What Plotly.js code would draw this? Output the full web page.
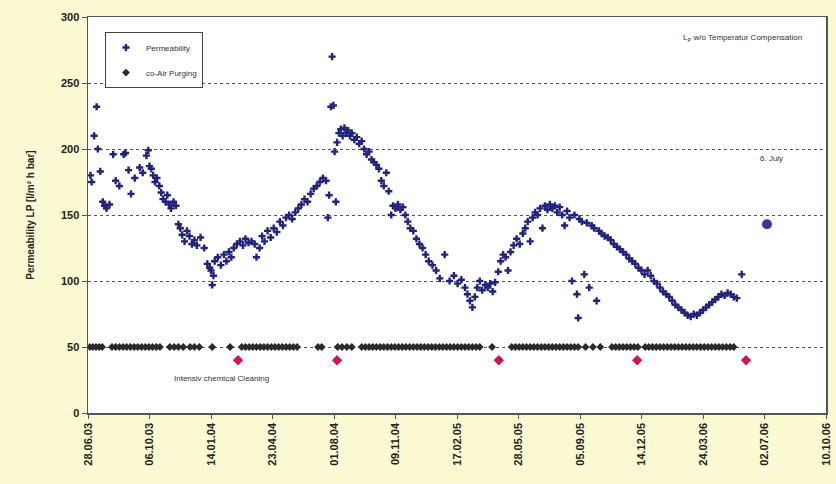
<!DOCTYPE html>
<html>
<head>
<meta charset="utf-8">
<script src="https://cdn.plot.ly/plotly-3.0.1.min.js"></script>
<style>
  html, body { margin: 0; padding: 0; background: #fbf9d2; }
  #chart { width: 836px; height: 484px; }
</style>
</head>
<body>
<div id="chart"></div>
<script>
// Axis ticks: every 100 days from 28.06.03
const tickDates = ['2003-06-28','2003-10-06','2004-01-14','2004-04-23','2004-08-01','2004-11-09',
  '2005-02-17','2005-05-28','2005-09-05','2005-12-14','2006-03-24','2006-07-02','2006-10-10'];
const tickLabels = ['28.06.03','06.10.03','14.01.04','23.04.04','01.08.04','09.11.04',
  '17.02.05','28.05.05','05.09.05','14.12.05','24.03.06','02.07.06','10.10.06'];

// Permeability LP [l/m² h bar]
const permDates = [
  '2003-07-02','2003-07-04','2003-07-08','2003-07-12','2003-07-14','2003-07-18','2003-07-22','2003-07-25',
  '2003-07-28','2003-08-02','2003-08-08','2003-08-12','2003-08-18','2003-08-25','2003-08-28','2003-09-02',
  '2003-09-06','2003-09-12','2003-09-20','2003-09-25','2003-10-01','2003-10-04','2003-10-06','2003-10-09',
  '2003-10-12','2003-10-15','2003-10-18','2003-10-22','2003-10-25','2003-10-28','2003-11-01','2003-11-04',
  '2003-11-07','2003-11-10','2003-11-14','2003-11-18','2003-11-22','2003-11-25','2003-11-28','2003-12-02',
  '2003-12-06','2003-12-10','2003-12-14','2003-12-18','2003-12-22','2003-12-28','2004-01-03','2004-01-08',
  '2004-01-12','2004-01-14','2004-01-16','2004-01-18','2004-01-20','2004-01-25','2004-01-30','2004-02-04',
  '2004-02-08','2004-02-12','2004-02-16','2004-02-20','2004-02-25','2004-03-01','2004-03-06','2004-03-10',
  '2004-03-15','2004-03-20','2004-03-25','2004-03-28','2004-04-02','2004-04-06','2004-04-10','2004-04-15',
  '2004-04-20','2004-04-25','2004-04-30','2004-05-05','2004-05-10','2004-05-15','2004-05-20','2004-05-25',
  '2004-05-30','2004-06-04','2004-06-09','2004-06-14','2004-06-19','2004-06-24','2004-06-29','2004-07-04',
  '2004-07-09','2004-07-14','2004-07-19','2004-07-22','2004-07-24','2004-07-27','2004-07-29','2004-07-31',
  '2004-08-02','2004-08-04','2004-08-06','2004-08-09','2004-08-12','2004-08-15','2004-08-18','2004-08-21',
  '2004-08-24','2004-08-27','2004-08-30','2004-09-03','2004-09-07','2004-09-11','2004-09-15','2004-09-19',
  '2004-09-23','2004-09-27','2004-10-01','2004-10-05','2004-10-09','2004-10-13','2004-10-17','2004-10-21',
  '2004-10-25','2004-10-29','2004-11-02','2004-11-05','2004-11-09','2004-11-13','2004-11-17','2004-11-21',
  '2004-11-25','2004-11-29','2004-12-03','2004-12-08','2004-12-13','2004-12-18','2004-12-23','2004-12-28',
  '2005-01-02','2005-01-08','2005-01-14','2005-01-20','2005-01-28','2005-02-05','2005-02-12','2005-02-18',
  '2005-02-24','2005-03-02','2005-03-06','2005-03-10','2005-03-14','2005-03-18','2005-03-22','2005-03-26',
  '2005-03-30','2005-04-04','2005-04-08','2005-04-12','2005-04-16','2005-04-20','2005-04-25','2005-04-29',
  '2005-05-03','2005-05-07','2005-05-11','2005-05-15','2005-05-20','2005-05-25','2005-05-30','2005-06-04',
  '2005-06-08','2005-06-12','2005-06-16','2005-06-20','2005-06-24','2005-06-28','2005-07-02','2005-07-06',
  '2005-07-10','2005-07-14','2005-07-18','2005-07-22','2005-07-26','2005-07-30','2005-08-03','2005-08-07',
  '2005-08-11','2005-08-15','2005-08-19','2005-08-23','2005-08-27','2005-08-31','2005-09-02','2005-09-04',
  '2005-09-08','2005-09-12','2005-09-16','2005-09-20','2005-09-24','2005-09-28','2005-10-02','2005-10-06',
  '2005-10-10','2005-10-15','2005-10-20','2005-10-25','2005-10-30','2005-11-04','2005-11-09','2005-11-14',
  '2005-11-19','2005-11-24','2005-11-29','2005-12-04','2005-12-09','2005-12-14','2005-12-19','2005-12-24',
  '2005-12-29','2006-01-03','2006-01-08','2006-01-13','2006-01-18','2006-01-23','2006-01-28','2006-02-02',
  '2006-02-07','2006-02-12','2006-02-17','2006-02-22','2006-02-27','2006-03-04','2006-03-09','2006-03-14',
  '2006-03-19','2006-03-24','2006-03-29','2006-04-03','2006-04-08','2006-04-13','2006-04-18','2006-04-23',
  '2006-04-28','2006-05-03','2006-05-08','2006-05-13','2006-05-18','2006-05-26'
];
const permValues = [
  180,175,210,232,200,183,160,157,
  155,158,196,176,172,196,197,184,
  166,178,186,182,195,199,187,185,
  180,175,178,172,167,162,160,165,
  158,155,160,157,143,140,135,130,
  138,134,128,131,127,133,125,113,
  110,108,97,104,115,118,112,120,
  115,122,118,125,128,130,127,132,
  129,130,128,118,125,134,130,138,
  133,140,137,145,142,148,150,147,
  152,155,158,162,160,166,170,172,
  175,178,176,148,165,232,270,233,
  198,160,205,212,215,210,216,212,
  214,210,212,207,209,204,206,200,
  196,198,192,190,188,185,176,172,
  182,168,150,157,155,158,154,156,
  150,145,140,138,132,128,125,120,
  115,112,108,102,120,100,104,98,
  101,95,90,85,80,88,95,100,
  93,97,95,98,92,99,107,115,
  120,118,108,122,127,132,128,136,
  140,145,130,148,152,150,155,140,
  157,154,158,155,157,152,156,150,
  142,153,148,100,150,90,72,147,
  145,105,144,95,142,140,85,138,
  136,134,133,131,128,126,124,122,
  120,117,115,113,110,108,105,108,
  104,100,98,95,92,90,88,85,
  82,80,78,76,74,73,75,74,
  76,78,80,82,84,86,88,90,
  89,91,90,88,87,105
];

// co-Air purging events (plotted at level 50)
const purgeDates = [
  '2003-07-01','2003-07-06','2003-07-11','2003-07-16','2003-07-21',
  '2003-08-06','2003-08-12','2003-08-18','2003-08-24','2003-08-30','2003-09-05','2003-09-11','2003-09-17',
  '2003-09-23','2003-09-29','2003-10-05','2003-10-11','2003-10-17','2003-10-23',
  '2003-11-08','2003-11-15','2003-11-22','2003-11-30','2003-12-11','2003-12-18','2003-12-26',
  '2004-01-16','2004-02-14',
  '2004-03-04','2004-03-10','2004-03-16','2004-03-22','2004-03-28','2004-04-03','2004-04-09','2004-04-15',
  '2004-04-21','2004-04-27','2004-05-03','2004-05-09','2004-05-15','2004-05-21','2004-05-27','2004-06-02',
  '2004-07-06','2004-07-12','2004-08-07','2004-08-14','2004-08-22','2004-08-30',
  '2004-09-15','2004-09-21','2004-09-27','2004-10-03','2004-10-09','2004-10-15','2004-10-21','2004-10-27',
  '2004-11-02','2004-11-08','2004-11-14','2004-11-20','2004-11-26','2004-12-02','2004-12-08','2004-12-14',
  '2004-12-20','2004-12-26','2005-01-01','2005-01-07','2005-01-13','2005-01-19','2005-01-25','2005-01-31',
  '2005-02-06','2005-02-12','2005-02-18','2005-02-24','2005-03-02','2005-03-08','2005-03-14','2005-03-20',
  '2005-03-26','2005-04-15',
  '2005-05-17','2005-05-23','2005-05-29','2005-06-04','2005-06-10','2005-06-16','2005-06-22','2005-06-28',
  '2005-07-04','2005-07-10','2005-07-16','2005-07-22','2005-07-28','2005-08-03','2005-08-09','2005-08-15',
  '2005-08-21','2005-08-27','2005-09-02','2005-09-14','2005-09-26','2005-10-08',
  '2005-10-27','2005-11-02','2005-11-08','2005-11-14','2005-11-20','2005-11-26','2005-12-02','2005-12-08',
  '2005-12-20','2005-12-26','2006-01-01','2006-01-07','2006-01-13','2006-01-19','2006-01-25','2006-01-31',
  '2006-02-06','2006-02-12','2006-02-18','2006-02-24','2006-03-02','2006-03-08','2006-03-14','2006-03-20',
  '2006-03-26','2006-04-01','2006-04-07','2006-04-13','2006-04-19','2006-04-25','2006-05-01','2006-05-07',
  '2006-05-13'
];
const purgeLevel = 50;

// Intensive chemical cleanings (plotted at level 40)
const cleaningDates = ['2004-02-27','2004-08-06','2005-04-26','2005-12-07','2006-06-02'];
const cleaningLevel = 40;

// Single reading on 6 July 2006
const julyDate = ['2006-07-06'];
const julyValue = [143];

const labelFont = {family: 'Liberation Sans, Arial, sans-serif', size: 8, color: '#333'};

const traces = [
  {
    x: permDates, y: permValues, type: 'scatter', mode: 'markers',
    name: 'Permeability', legendgroup: 'a',
    marker: {symbol: 'cross', size: 6, color: '#22227f'}
  },
  {
    x: purgeDates, y: purgeDates.map(() => purgeLevel), type: 'scatter', mode: 'markers',
    name: 'co-Air Purging', legendgroup: 'b',
    marker: {symbol: 'diamond', size: 6, color: '#2a2a2a'}
  },
  {
    x: cleaningDates, y: cleaningDates.map(() => cleaningLevel), type: 'scatter', mode: 'markers',
    name: 'Intensiv chemical Cleaning', showlegend: false,
    marker: {symbol: 'diamond', size: 8, color: '#d41452'}
  },
  {
    x: julyDate, y: julyValue, type: 'scatter', mode: 'markers',
    name: '6. July', showlegend: false,
    marker: {symbol: 'circle', size: 10, color: '#2d3b9c'}
  }
];

const layout = {
  width: 836, height: 484,
  paper_bgcolor: '#fbf9d2',
  plot_bgcolor: '#ffffff',
  margin: {l: 88, r: 10, t: 17, b: 71},
  showlegend: true,
  legend: {
    x: 0.023, y: 0.962, xanchor: 'left', yanchor: 'top',
    bgcolor: '#ffffff', bordercolor: '#444', borderwidth: 1,
    font: labelFont, traceorder: 'grouped', tracegroupgap: 6,
    itemwidth: 30
  },
  xaxis: {
    type: 'date',
    range: ['2003-06-28', '2006-10-10'],
    tickmode: 'array', tickvals: tickDates, ticktext: tickLabels,
    tickangle: -90,
    ticks: 'outside', ticklen: 4, tickcolor: '#555',
    showline: true, linecolor: '#555', linewidth: 1.5, mirror: true,
    showgrid: false, zeroline: false,
    tickfont: {family: 'Liberation Sans Narrow, Liberation Sans, Arial, sans-serif', size: 11, color: '#222', weight: 'bold'}
  },
  yaxis: {
    range: [0, 300],
    tickvals: [0, 50, 100, 150, 200, 250, 300],
    ticks: 'outside', ticklen: 5, tickcolor: '#555',
    showline: true, linecolor: '#555', linewidth: 1.5, mirror: true,
    showgrid: true, gridcolor: '#555', griddash: 'dot', gridwidth: 1,
    zeroline: false,
    tickfont: {family: 'Liberation Sans Narrow, Liberation Sans, Arial, sans-serif', size: 11, color: '#222', weight: 'bold'},
    title: {
      text: 'Permeability LP [l/m² h bar]',
      font: {family: 'Liberation Sans, Arial, sans-serif', size: 10, color: '#222', weight: 'bold'},
      standoff: 24
    }
  },
  annotations: [
    {xref: 'paper', yref: 'paper', x: 0.97, y: 0.965, xanchor: 'right', yanchor: 'top',
     text: 'L<sub>P</sub> w/o Temperatur Compensation', showarrow: false, font: labelFont},
    {xref: 'x', yref: 'y', x: '2006-07-14', y: 193, xanchor: 'center', yanchor: 'middle',
     text: '6. July', showarrow: false, font: labelFont},
    {xref: 'x', yref: 'y', x: '2003-11-12', y: 26, xanchor: 'left', yanchor: 'middle',
     text: 'Intensiv chemical Cleaning', showarrow: false, font: labelFont}
  ]
};

Plotly.newPlot('chart', traces, layout, {displayModeBar: false, staticPlot: true});
</script>
</body>
</html>
